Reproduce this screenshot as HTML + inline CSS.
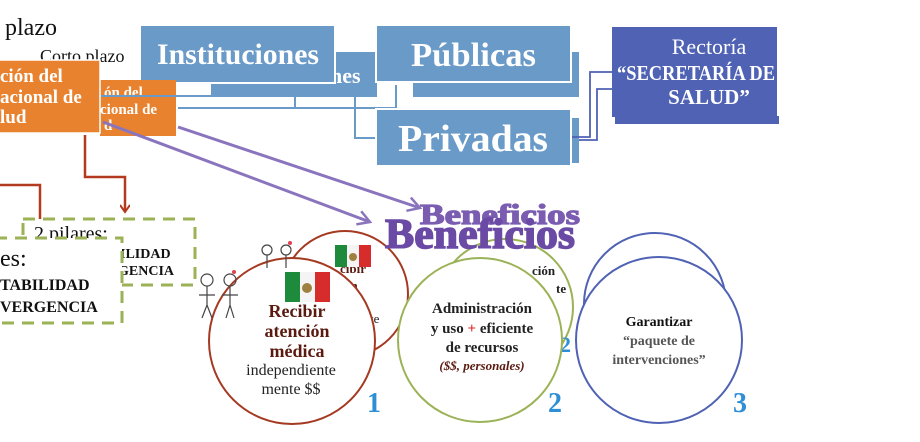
<!DOCTYPE html>
<html><head><meta charset="utf-8"><style>
html,body{margin:0;padding:0;background:#fff;width:920px;height:442px;overflow:hidden}
svg{display:block}
text{font-family:"Liberation Serif","DejaVu Serif",serif}
</style></head><body>
<svg width="920" height="442" viewBox="0 0 920 442" xmlns="http://www.w3.org/2000/svg">
<defs>
<marker id="ar" markerWidth="10" markerHeight="10" refX="8" refY="5" orient="auto" markerUnits="userSpaceOnUse"><path d="M1,0 L8,5 L1,10" fill="none" stroke="#b33a1e" stroke-width="2"/></marker>
<marker id="ap" markerWidth="16" markerHeight="16" refX="14" refY="8" orient="auto" markerUnits="userSpaceOnUse"><path d="M2,1 L14,8 L2,15" fill="none" stroke="#8a74bd" stroke-width="2.5"/></marker>
</defs>
<text x="5" y="35" font-size="24" fill="#111">plazo</text>
<text x="40" y="62" font-size="18" fill="#111">Corto plazo</text>

<rect x="211" y="52" width="166" height="45" fill="#6a9ac7"/>
<text x="330" y="83" font-size="22" font-weight="bold" fill="#fff">nes</text>
<rect x="413" y="52" width="166" height="45" fill="#6a9ac7"/>
<rect x="571" y="118" width="8" height="45" fill="#6a9ac7"/>

<g stroke="#6a9ac7" stroke-width="2" fill="none">
<path d="M100,96 H211"/>
<path d="M178,108 H396 V85"/>
<path d="M295,108 V97"/>
<path d="M355,97 V138 H376"/>
</g>
<g stroke="#4f62b4" stroke-width="1.8" fill="none">
<path d="M571,137 H590 V72 H612"/>
<path d="M579,140 H597 V89 H612"/>
</g>

<rect x="140" y="25" width="195" height="58" fill="#6a9ac7" stroke="#fff" stroke-width="2"/>
<text x="157" y="64" font-size="30" font-weight="bold" fill="#fff" textLength="162" lengthAdjust="spacingAndGlyphs">Instituciones</text>
<rect x="376" y="25" width="195" height="57" fill="#6a9ac7" stroke="#fff" stroke-width="2"/>
<text x="411" y="66" font-size="34" font-weight="bold" fill="#fff" textLength="125" lengthAdjust="spacingAndGlyphs">Públicas</text>
<rect x="376" y="109" width="195" height="57" fill="#6a9ac7" stroke="#fff" stroke-width="2"/>
<text x="398" y="151" font-size="38" font-weight="bold" fill="#fff" textLength="150" lengthAdjust="spacingAndGlyphs">Privadas</text>

<rect x="615" y="116" width="164" height="8" fill="#4f62b4"/>
<rect x="612" y="27" width="165" height="90" fill="#4f62b4"/>
<text x="709" y="54" font-size="22" fill="#fff" text-anchor="middle">Rectoría</text>
<text x="617" y="80" font-size="21" font-weight="bold" fill="#fff" textLength="158" lengthAdjust="spacingAndGlyphs">“SECRETARÍA DE</text>
<text x="709" y="104" font-size="21" font-weight="bold" fill="#fff" text-anchor="middle">SALUD”</text>

<rect x="100" y="80" width="76" height="56" fill="#e8822f"/>
<text x="104" y="97" font-size="15" font-weight="bold" fill="#fff">ón del</text>
<text x="100" y="114" font-size="15" font-weight="bold" fill="#fff">cional de</text>
<text x="104" y="130" font-size="15" font-weight="bold" fill="#fff">d</text>
<path d="M100,96 H176" stroke="#6a9ac7" stroke-width="2"/>
<rect x="-5" y="60" width="105" height="73" fill="#e8822f" stroke="#fff" stroke-width="1.5"/>
<text x="0" y="82" font-size="19" font-weight="bold" fill="#fff">ción del</text>
<text x="0" y="103" font-size="19" font-weight="bold" fill="#fff">acional de</text>
<text x="0" y="123" font-size="19" font-weight="bold" fill="#fff">lud</text>

<g stroke="#b33a1e" stroke-width="2.5" fill="none">
<path d="M85,135 V177 H125 V212" marker-end="url(#ar)"/>
<path d="M0,185 H40 V237" marker-end="url(#ar)"/>
</g>

<rect x="23" y="219" width="172" height="66" fill="#fff" stroke="#9bb256" stroke-width="3" stroke-dasharray="12,8"/>
<text x="34" y="240" font-size="20" fill="#111">2 pilares:</text>
<text x="120" y="258" font-size="14" font-weight="bold" fill="#111">ILIDAD</text>
<text x="118" y="275" font-size="14" font-weight="bold" fill="#111">GENCIA</text>
<rect x="-5" y="238" width="127" height="85" fill="#fff" stroke="#9bb256" stroke-width="3" stroke-dasharray="12,8"/>
<text x="0" y="266" font-size="24" fill="#111">es:</text>
<text x="0" y="290" font-size="16" font-weight="bold" fill="#111">TABILIDAD</text>
<text x="0" y="312" font-size="16" font-weight="bold" fill="#111">VERGENCIA</text>

<g stroke="#8a74bd" stroke-width="3" fill="none">
<path d="M178,127 L420,208" marker-end="url(#ap)"/>
<path d="M103,122 L370,222" marker-end="url(#ap)"/>
</g>

<circle cx="345" cy="294" r="63" fill="#fff" stroke="#a53a22" stroke-width="2"/>
<circle cx="505" cy="307" r="68" fill="#fff" stroke="#9bb256" stroke-width="2"/>
<circle cx="655" cy="304" r="71" fill="#fff" stroke="#4f62b4" stroke-width="2"/>
<g font-weight="bold" font-size="13" fill="#5a1a10">
<text x="340" y="273">cibir</text><text x="344" y="290">ón</text>
</g>
<text x="370" y="323" font-size="13" fill="#222">te</text>
<text x="532" y="275" font-size="13" font-weight="bold" fill="#222">ción</text>
<text x="556" y="293" font-size="13" font-weight="bold" fill="#222">te</text>
<rect x="335" y="245" width="12" height="22" fill="#1e8a3c"/><rect x="347" y="245" width="12" height="22" fill="#f4f4f4"/><rect x="359" y="245" width="12" height="22" fill="#d62c2c"/>
<circle cx="353" cy="257" r="4" fill="#a08040"/>

<text x="560" y="352" font-size="22" font-weight="bold" fill="#2e8fd6">2</text>

<circle cx="292" cy="341" r="83" fill="#fff" stroke="#a53a22" stroke-width="2"/>
<circle cx="480" cy="340" r="82" fill="#fff" stroke="#9bb256" stroke-width="2"/>
<circle cx="659" cy="340" r="83" fill="#fff" stroke="#4f62b4" stroke-width="2"/>

<rect x="285" y="272" width="15" height="30" fill="#1e8a3c"/><rect x="300" y="272" width="15" height="30" fill="#f4f4f4"/><rect x="315" y="272" width="15" height="30" fill="#d62c2c"/>
<circle cx="307" cy="288" r="5" fill="#a08040"/>

<g text-anchor="middle">
<text x="297" y="317" font-size="18" font-weight="bold" fill="#5a1a10">Recibir</text>
<text x="297" y="337" font-size="18" font-weight="bold" fill="#5a1a10">atención</text>
<text x="297" y="357" font-size="18" font-weight="bold" fill="#5a1a10">médica</text>
<text x="291" y="375" font-size="16" fill="#222">independiente</text>
<text x="291" y="394" font-size="16" fill="#222">mente $$</text>
<text x="482" y="313" font-size="15" font-weight="bold" fill="#222">Administración</text>
<text x="482" y="333" font-size="15" font-weight="bold" fill="#222">y uso <tspan fill="#e02020">+</tspan> eficiente</text>
<text x="482" y="352" font-size="15" font-weight="bold" fill="#222">de recursos</text>
<text x="482" y="370" font-size="13" font-weight="bold" font-style="italic" fill="#5a1a10">($$, personales)</text>
<text x="659" y="326" font-size="14" font-weight="bold" fill="#111">Garantizar</text>
<text x="659" y="345" font-size="14" font-weight="bold" fill="#555">“paquete de</text>
<text x="659" y="364" font-size="14" font-weight="bold" fill="#555">intervenciones”</text>
</g>
<text x="367" y="412" font-size="28" font-weight="bold" fill="#2e8fd6" font-family="Liberation Sans,sans-serif">1</text>
<text x="548" y="412" font-size="28" font-weight="bold" fill="#2e8fd6" font-family="Liberation Sans,sans-serif">2</text>
<text x="733" y="412" font-size="28" font-weight="bold" fill="#2e8fd6" font-family="Liberation Sans,sans-serif">3</text>

<g stroke="#444" stroke-width="1.2" fill="none">
<circle cx="207" cy="280" r="6"/><path d="M207,286 V305 M199,295 L215,295 M207,305 L202,318 M207,305 L212,318"/>
<circle cx="230" cy="280" r="6"/><path d="M230,286 V305 M222,295 L238,295 M230,305 L226,318 M230,305 L234,318"/>
<circle cx="267" cy="250" r="5"/><path d="M267,255 V268"/>
<circle cx="286" cy="250" r="5"/><path d="M286,255 V268"/>
</g>
<circle cx="234" cy="272" r="2" fill="#e04050"/><circle cx="290" cy="243" r="2" fill="#e04050"/>

<text x="420" y="224" font-size="28" font-weight="bold" fill="#7a5cb0" stroke="#7a5cb0" stroke-width="1.2" textLength="160" lengthAdjust="spacingAndGlyphs">Beneficios</text>
<text x="385" y="248" font-size="42" font-weight="bold" fill="#6a4aa4" stroke="#6a4aa4" stroke-width="1.5" textLength="190" lengthAdjust="spacingAndGlyphs">Beneficios</text>
</svg>
</body></html>
